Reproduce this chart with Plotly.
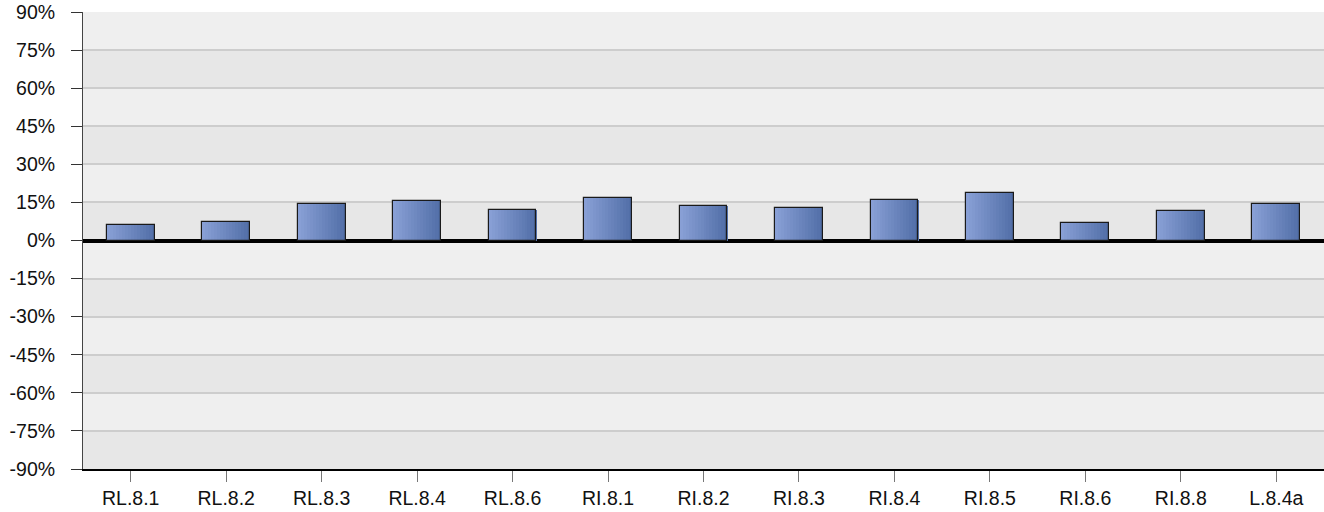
import plotly.graph_objects as go

categories = ["RL.8.1", "RL.8.2", "RL.8.3", "RL.8.4", "RL.8.6", "RI.8.1", "RI.8.2",
              "RI.8.3", "RI.8.4", "RI.8.5", "RI.8.6", "RI.8.8", "L.8.4a"]
values = [6.2, 7.2, 14.2, 15.6, 12.1, 16.9, 13.7, 12.7, 16.0, 18.6, 7.0, 11.5, 14.3]
tick_vals = [-90, -75, -60, -45, -30, -15, 0, 15, 30, 45, 60, 75, 90]
tick_text = [f"{v}%" for v in tick_vals]

FONT = "Liberation Sans, Arial, sans-serif"
FS = 19.5
BAR_W = 0.5
N_STRIPES = 16
c0 = (0x88, 0x9f, 0xd5)
c1 = (0x52, 0x6f, 0xa8)

fig = go.Figure()

# background bands
for i in range(len(tick_vals) - 1):
    lo, hi = tick_vals[i], tick_vals[i + 1]
    fig.add_shape(type="rect", xref="paper", yref="y", x0=0, x1=1, y0=lo, y1=hi,
                  fillcolor="#e7e7e7" if i % 2 == 0 else "#efefef",
                  line_width=0, layer="below")

# gradient stripes
sw = BAR_W / N_STRIPES
for k in range(N_STRIPES):
    t = k / (N_STRIPES - 1)
    col = "rgb(%d,%d,%d)" % tuple(round(a + (b - a) * t) for a, b in zip(c0, c1))
    fig.add_trace(go.Bar(
        x=categories, y=values, width=sw * 1.08, offset=-BAR_W / 2 + k * sw,
        marker=dict(color=col, line=dict(width=0)),
        hoverinfo="skip", showlegend=False))

# outline
fig.add_trace(go.Bar(
    x=categories, y=values, width=BAR_W, offset=-BAR_W / 2,
    marker=dict(color="rgba(0,0,0,0)", line=dict(color="#1a1a1a", width=1.2)),
    showlegend=False))

fig.update_layout(
    width=1324, height=512,
    margin=dict(l=83, r=0, t=12, b=43),
    paper_bgcolor="white", plot_bgcolor="#efefef",
    barmode="overlay", bargap=0,
    font=dict(family=FONT, size=FS, color="#111111"),
)
fig.update_yaxes(
    range=[-90, 90], tickvals=tick_vals, ticktext=tick_text,
    showgrid=True, gridcolor="#cdcdcd", gridwidth=1.5,
    zeroline=True, zerolinecolor="black", zerolinewidth=3.5,
    showline=True, linecolor="#444444", linewidth=1,
    ticks="outside", ticklen=11, tickcolor="#333333", tickwidth=1,
    ticklabelstandoff=12, layer="below traces",
    tickfont=dict(family=FONT, size=FS, color="#111111"),
)
fig.update_xaxes(
    type="category", showgrid=False, zeroline=False,
    showline=True, linecolor="black", linewidth=1.5,
    ticks="outside", ticklen=11, tickcolor="#777777", tickwidth=1,
    ticklabelstandoff=0,
    tickfont=dict(family=FONT, size=FS, color="#111111"),
)

fig.write_html("out.html", config={"displayModeBar": False},
               post_script="document.body.style.margin='0';document.body.style.overflow='hidden';")
